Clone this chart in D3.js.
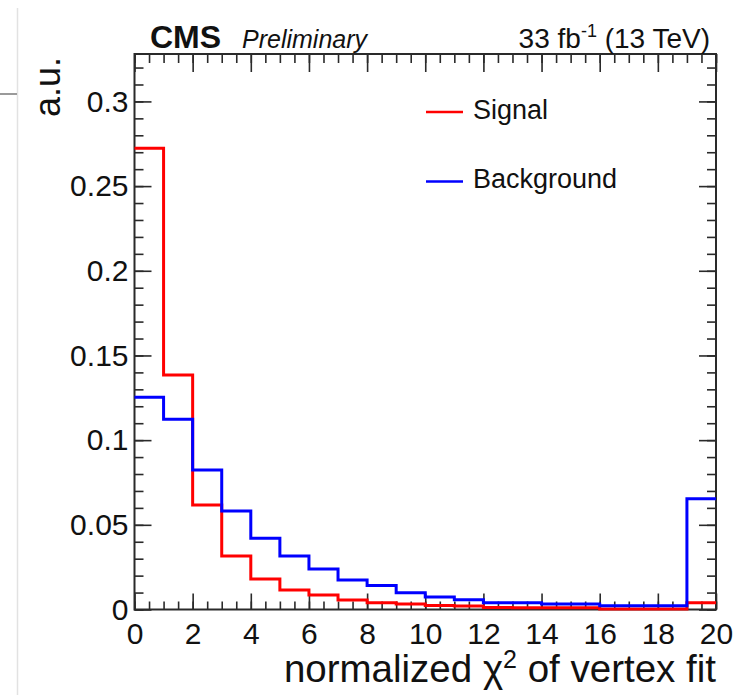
<!DOCTYPE html>
<html>
<head>
<meta charset="utf-8">
<script src="https://cdn.jsdelivr.net/npm/d3@7"></script>
<style>
  body { margin: 0; background: #fff; }
  text { font-family: "Liberation Sans", Arial, sans-serif; fill: #111; }
</style>
</head>
<body>
<div id="chart"></div>
<script>
// bin edges of the normalized chi2 histogram
const binEdges = [0, 1, 2, 3, 4, 5, 6, 7, 8, 9, 10, 11, 12, 13, 14, 15, 16, 17, 18, 19, 20];

// contents per bin (a.u.)
const signal = [0.2724, 0.1385, 0.0617, 0.0316, 0.0180, 0.0115, 0.0086, 0.0056, 0.0040, 0.0032,
                0.0024, 0.0020, 0.0012, 0.0011, 0.0010, 0.0010, 0.0003, 0.0003, 0.0003, 0.0040];
const background = [0.1253, 0.1123, 0.0824, 0.0582, 0.0420, 0.0316, 0.0239, 0.0174, 0.0141, 0.0099,
                    0.0074, 0.0058, 0.0040, 0.0040, 0.0033, 0.0033, 0.0022, 0.0022, 0.0022, 0.0654];

const xTicks = [0, 2, 4, 6, 8, 10, 12, 14, 16, 18, 20];
const xTickLabels = ["0", "2", "4", "6", "8", "10", "12", "14", "16", "18", "20"];
const yTicks = [0, 0.05, 0.1, 0.15, 0.2, 0.25, 0.3];
const yTickLabels = ["0", "0.05", "0.1", "0.15", "0.2", "0.25", "0.3"];

const legendItems = [
  {name: "Signal", color: "#ff0000"},
  {name: "Background", color: "#0000ff"}
];

/*******************************/
/*    Declare the constants    */
/*******************************/
const width = 734;
const height = 695;
const frame = {left: 134.5, right: 716, top: 54, bottom: 609.5};
const axisColor = "#2a2a2a";

const svg = d3.select("#chart")
  .append("svg")
    .attr("width", width)
    .attr("height", height);

// stray window edges visible in the screenshot
svg.append("line")
  .attr("x1", 17.5).attr("x2", 17.5).attr("y1", 8).attr("y2", height)
  .attr("stroke", "#e2e2e2").attr("stroke-width", 1.5);
svg.append("line")
  .attr("x1", 0).attr("x2", 17).attr("y1", 94).attr("y2", 94)
  .attr("stroke", "#9a9a9a").attr("stroke-width", 2);

/****************************/
/*    Declare the scales    */
/****************************/
const xScale = d3.scaleLinear()
  .domain([0, 20])
  .range([frame.left, frame.right]);

const yScale = d3.scaleLinear()
  .domain([0, 0.328])
  .range([frame.bottom, frame.top]);

/**************************/
/*      Add the axes      */
/**************************/
const xMinor = d3.range(0, 20.001, 0.5);
const yMinor = d3.range(0, 0.3281, 0.01);

const styleAxis = g => {
  g.select(".domain").remove();
  g.selectAll(".tick line").attr("stroke", axisColor).attr("stroke-width", 1.6);
  g.selectAll(".tick text")
    .style("font-family", "'Liberation Sans', Arial, sans-serif")
    .style("font-size", "30px")
    .attr("fill", "#111");
};

// bottom
svg.append("g")
  .attr("transform", `translate(0, ${frame.bottom})`)
  .call(d3.axisBottom(xScale).tickValues(xMinor).tickSize(-8).tickFormat(""))
  .call(styleAxis);
svg.append("g")
  .attr("transform", `translate(0, ${frame.bottom})`)
  .call(d3.axisBottom(xScale).tickValues(xTicks).tickSize(-16).tickPadding(13)
    .tickFormat((d, i) => xTickLabels[i]))
  .call(styleAxis);

// top (mirror)
svg.append("g")
  .attr("transform", `translate(0, ${frame.top})`)
  .call(d3.axisTop(xScale).tickValues(xMinor).tickSize(-9).tickFormat(""))
  .call(styleAxis);
svg.append("g")
  .attr("transform", `translate(0, ${frame.top})`)
  .call(d3.axisTop(xScale).tickValues(xTicks).tickSize(-18).tickFormat(""))
  .call(styleAxis);

// left
svg.append("g")
  .attr("transform", `translate(${frame.left}, 0)`)
  .call(d3.axisLeft(yScale).tickValues(yMinor).tickSize(-9).tickFormat(""))
  .call(styleAxis);
svg.append("g")
  .attr("transform", `translate(${frame.left}, 0)`)
  .call(d3.axisLeft(yScale).tickValues(yTicks).tickSize(-17).tickPadding(6)
    .tickFormat((d, i) => yTickLabels[i]))
  .call(styleAxis);

// right (mirror)
svg.append("g")
  .attr("transform", `translate(${frame.right}, 0)`)
  .call(d3.axisRight(yScale).tickValues(yMinor).tickSize(-9).tickFormat(""))
  .call(styleAxis);
svg.append("g")
  .attr("transform", `translate(${frame.right}, 0)`)
  .call(d3.axisRight(yScale).tickValues(yTicks).tickSize(-17).tickFormat(""))
  .call(styleAxis);

// frame
svg.append("rect")
  .attr("x", frame.left)
  .attr("y", frame.top)
  .attr("width", frame.right - frame.left)
  .attr("height", frame.bottom - frame.top)
  .attr("fill", "none")
  .attr("stroke", axisColor)
  .attr("stroke-width", 2);

/*******************************/
/*    Append the histograms    */
/*******************************/
const stepLine = d3.line()
  .x(d => xScale(d[0]))
  .y(d => yScale(d[1]))
  .curve(d3.curveStepAfter);

const toSteps = values => binEdges.map((e, i) => [e, values[Math.min(i, values.length - 1)]]);

svg.append("path")
  .attr("d", stepLine(toSteps(signal)))
  .attr("fill", "none")
  .attr("stroke", legendItems[0].color)
  .attr("stroke-width", 3);

svg.append("path")
  .attr("d", stepLine(toSteps(background)))
  .attr("fill", "none")
  .attr("stroke", legendItems[1].color)
  .attr("stroke-width", 3);

/**************************/
/*        Legend          */
/**************************/
const legend = svg.append("g");
legendItems.forEach((item, i) => {
  const yPos = 112 + i * 69.5;
  legend.append("line")
    .attr("x1", 426).attr("x2", 463)
    .attr("y1", yPos).attr("y2", yPos)
    .attr("stroke", item.color)
    .attr("stroke-width", 2.5);
  legend.append("text")
    .attr("x", 473)
    .attr("y", yPos + 6.5)
    .style("font-size", "27px")
    .text(item.name);
});

/**************************/
/*     Titles & labels    */
/**************************/
svg.append("text")
  .attr("x", 150).attr("y", 48)
  .style("font-size", "32px")
  .style("font-weight", "bold")
  .text("CMS");

svg.append("text")
  .attr("x", 242).attr("y", 48)
  .style("font-size", "25px")
  .style("font-style", "italic")
  .text("Preliminary");

const lumi = svg.append("text")
  .attr("x", 710).attr("y", 48)
  .attr("text-anchor", "end")
  .style("font-size", "28px");
lumi.append("tspan").text("33 fb");
lumi.append("tspan").attr("dy", -11).style("font-size", "18px").text("-1");
lumi.append("tspan").attr("dy", 11).text(" (13 TeV)");

svg.append("text")
  .attr("transform", "translate(60, 57) rotate(-90)")
  .attr("text-anchor", "end")
  .style("font-size", "36px")
  .text("a.u.");

const xTitle = svg.append("text")
  .attr("x", 716).attr("y", 682)
  .attr("text-anchor", "end")
  .style("font-size", "38.5px");
xTitle.append("tspan").text("normalized \u03c7");
xTitle.append("tspan").attr("dy", -14).style("font-size", "25px").text("2");
xTitle.append("tspan").attr("dy", 14).text(" of vertex fit");
</script>
</body>
</html>
